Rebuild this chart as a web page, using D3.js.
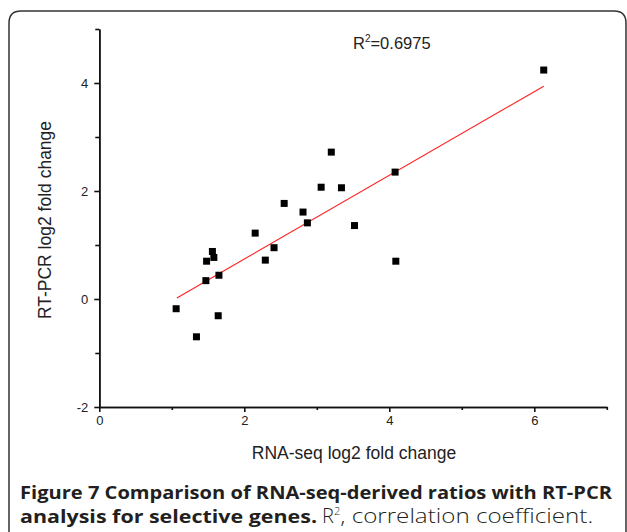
<!DOCTYPE html>
<html>
<head>
<meta charset="utf-8">
<script src="https://cdn.jsdelivr.net/npm/d3@7"></script>
<style>
  body { margin: 0; background: #fff; }
  svg { display: block; }
</style>
</head>
<body>
<div id="chart"></div>
<script>
// values
const rnaSeq = [1.06, 1.34, 1.64, 1.47, 1.65, 1.48, 1.58, 1.56, 2.15, 2.29, 2.41, 2.55,
                2.81, 2.87, 3.20, 3.06, 3.34, 3.52, 4.08, 4.09, 6.13];
const rtPcr  = [-0.18, -0.70, -0.31, 0.34, 0.44, 0.70, 0.77, 0.88, 1.22, 0.72, 0.95, 1.77,
                1.61, 1.41, 2.72, 2.07, 2.06, 1.36, 2.35, 0.70, 4.24];
// fitted line, end points as drawn
const fitX = [1.07, 6.13];
const fitY = [0.02, 3.94];
const xTicks = [0, 2, 4, 6];
const xMinor = [1, 3, 5, 7];
const yTicks = [-2, 0, 2, 4];
const yMinor = [-1, 1, 3, 5];
const r2Label = "0.6975";

const W = 627, H = 532;
const svg = d3.select("#chart").append("svg")
    .attr("width", W).attr("height", H);

// frame round the figure, open at the bottom
svg.append("path")
    .attr("d", "M9,532 V23 Q9,11 21,11 H614 Q626,11 626,23 V532")
    .attr("fill", "none")
    .attr("stroke", "#333")
    .attr("stroke-width", 1.5);

const x = d3.scaleLinear().domain([0, 7]).range([99.3, 606.8]);
const y = d3.scaleLinear().domain([-2, 5]).range([407, 29]);

const font = "'Liberation Sans', Arial, sans-serif";
const fmt = d => String(d);   // plain hyphen for negatives, as in the figure

function styleAxis(g) {
    g.selectAll("path, line").attr("stroke", "#111").attr("stroke-width", 1.6);
    g.selectAll("text").attr("font-family", font).attr("font-size", 13).attr("fill", "#222");
}

// minor ticks first, then major with labels
svg.append("g").attr("transform", `translate(0,${y(-2)})`)
    .call(d3.axisBottom(x).tickValues(xMinor).tickSize(3).tickSizeOuter(0).tickFormat(""))
    .call(styleAxis);
svg.append("g").attr("transform", `translate(0,${y(-2)})`)
    .call(d3.axisBottom(x).tickValues(xTicks).tickSize(5).tickSizeOuter(0).tickPadding(4).tickFormat(fmt))
    .call(styleAxis);
svg.append("g").attr("transform", `translate(${x(0)},0)`)
    .call(d3.axisLeft(y).tickValues(yMinor).tickSize(4).tickSizeOuter(0).tickFormat(""))
    .call(styleAxis);
svg.append("g").attr("transform", `translate(${x(0)},0)`)
    .call(d3.axisLeft(y).tickValues(yTicks).tickSize(5).tickSizeOuter(0).tickPadding(6).tickFormat(fmt))
    .call(styleAxis);

// regression line
svg.append("line")
    .attr("x1", x(fitX[0])).attr("y1", y(fitY[0]))
    .attr("x2", x(fitX[1])).attr("y2", y(fitY[1]))
    .attr("stroke", "#ff2020")
    .attr("stroke-width", 1.1);

// points
const pts = rnaSeq.map((d, i) => ({ x: d, y: rtPcr[i] }));
svg.append("g").selectAll("rect")
    .data(pts)
    .enter()
    .append("rect")
    .attr("x", d => x(d.x) - 3.5)
    .attr("y", d => y(d.y) - 3.5)
    .attr("width", 7)
    .attr("height", 7)
    .attr("fill", "#000");

// R² label
const r2 = svg.append("text")
    .attr("x", 353).attr("y", 49)
    .attr("font-family", font).attr("font-size", 16.5).attr("fill", "#222");
r2.append("tspan").text("R");
r2.append("tspan").attr("font-size", 10).attr("dy", -7).text("2");
r2.append("tspan").attr("dy", 7).text("=" + r2Label);

// axis titles
svg.append("text")
    .attr("x", 354).attr("y", 459)
    .attr("text-anchor", "middle")
    .attr("font-family", font).attr("font-size", 17.5).attr("fill", "#222")
    .text("RNA-seq log2 fold change");
svg.append("text")
    .attr("transform", "translate(51,220) rotate(-90)")
    .attr("text-anchor", "middle")
    .attr("font-family", font).attr("font-size", 17.5).attr("fill", "#222")
    .text("RT-PCR log2 fold change");

// caption
const capFont = "'Open Sans', 'Noto Sans', sans-serif";
svg.append("text")
    .attr("x", 20).attr("y", 499)
    .attr("font-family", capFont).attr("font-size", 18.5).attr("font-weight", 700)
    .attr("fill", "#231f20")
    .attr("textLength", 592).attr("lengthAdjust", "spacingAndGlyphs")
    .text("Figure 7 Comparison of RNA-seq-derived ratios with RT-PCR");
const cap2 = svg.append("text")
    .attr("x", 20).attr("y", 523)
    .attr("font-family", capFont).attr("font-size", 18.5)
    .attr("fill", "#231f20");
cap2.append("tspan").attr("font-weight", 700)
    .attr("textLength", 297).attr("lengthAdjust", "spacingAndGlyphs")
    .text("analysis for selective genes.");
cap2.append("tspan").attr("x", 322).attr("font-weight", 300).attr("font-size", 20).text("R");
cap2.append("tspan").attr("font-weight", 300).attr("font-size", 11).attr("dy", -8).text("2");
cap2.append("tspan").attr("font-weight", 300).attr("font-size", 20).attr("dy", 8)
    .attr("textLength", 253).attr("lengthAdjust", "spacingAndGlyphs")
    .text(", correlation coefficient.");
</script>
</body>
</html>
